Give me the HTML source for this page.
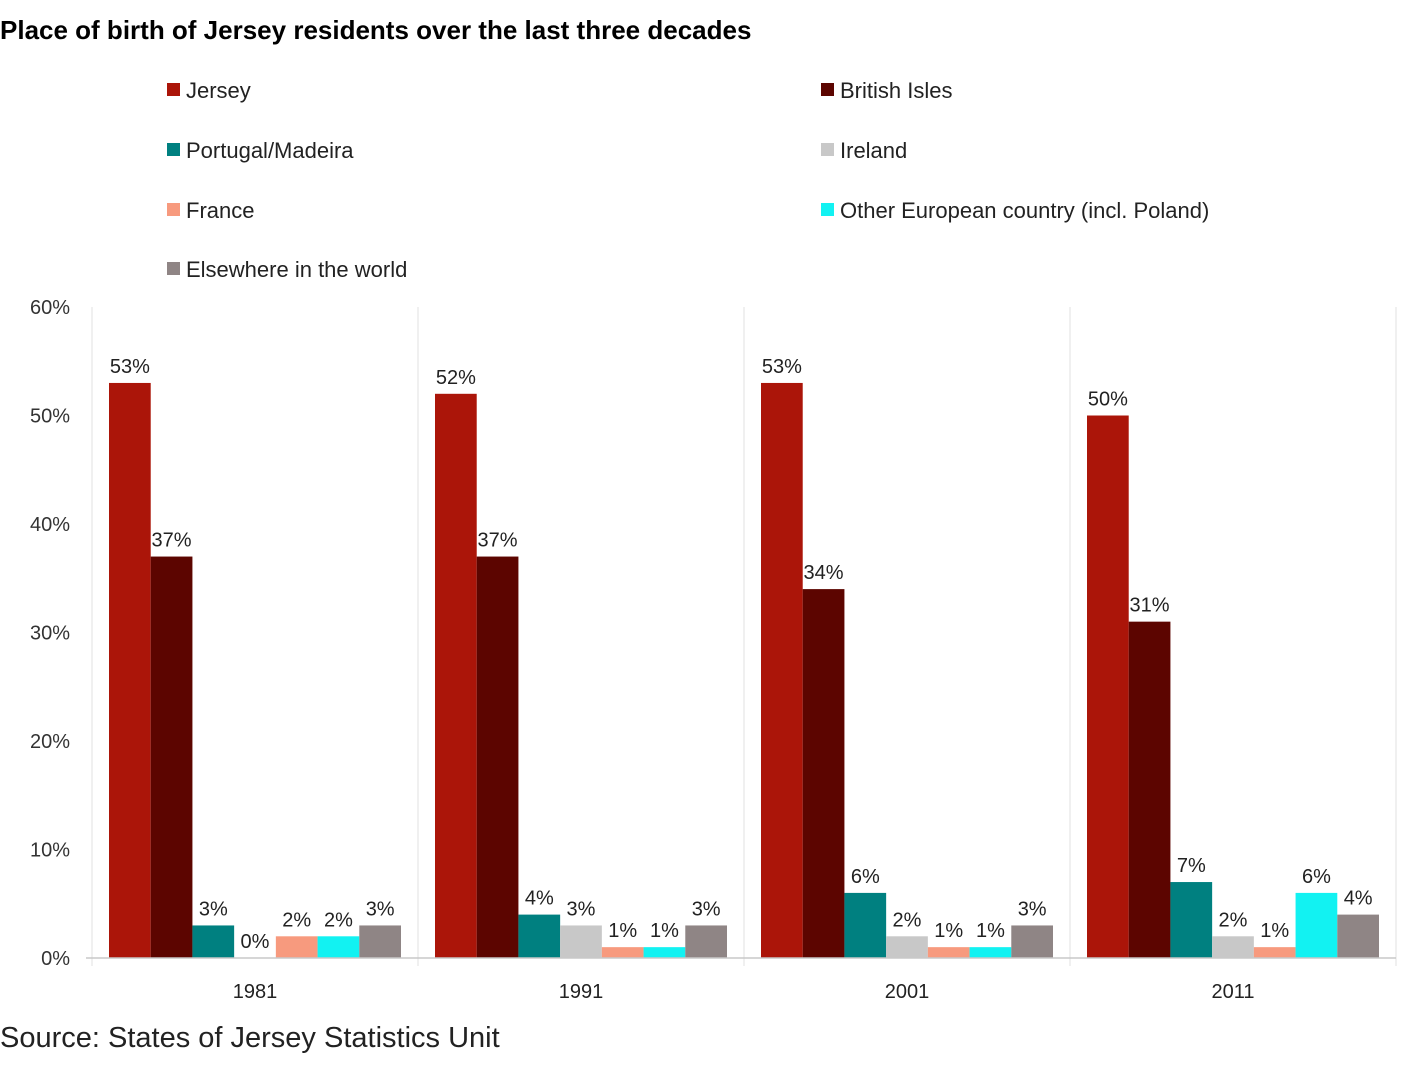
<!DOCTYPE html>
<html><head><meta charset="utf-8"><style>
body{margin:0;background:#fff;font-family:"Liberation Sans",sans-serif;}
svg{display:block}
</style></head><body>
<svg id="chart" width="1420" height="1068" xmlns="http://www.w3.org/2000/svg">
<text x="0" y="39" font-size="26" font-weight="bold" fill="#000">Place of birth of Jersey residents over the last three decades</text>
<g id="legend"></g>
<g id="grid"></g>
<g id="yaxis"></g>
<g id="bars"></g>
<g id="xaxis"></g>
<text x="0" y="1047" font-size="29" fill="#222">Source: States of Jersey Statistics Unit</text>
</svg>
<script>
const categories = ["1981","1991","2001","2011"];
const seriesNames = ["Jersey","British Isles","Portugal/Madeira","Ireland","France","Other European country (incl. Poland)","Elsewhere in the world"];
const jersey = [53,52,53,50];
const britishIsles = [37,37,34,31];
const portugal = [3,4,6,7];
const ireland = [0,3,2,2];
const france = [2,1,1,1];
const otherEurope = [2,1,1,6];
const elsewhere = [3,3,3,4];
const yTicks = [0,10,20,30,40,50,60];
const colors = ["#ab1509","#5c0500","#008080","#c8c8c8","#f79a7e","#12f2f2","#8f8585"];
const series = [jersey,britishIsles,portugal,ireland,france,otherEurope,elsewhere];
const NS="http://www.w3.org/2000/svg";
const x0=92,x1=1396,y0=958,yTop=307,yMax=60;
const groupW=(x1-x0)/categories.length, pad=17, barW=(groupW-2*pad)/series.length;
const y=v=>y0-(v/yMax)*(y0-yTop);
function mk(tag,attrs,parent,text){const e=document.createElementNS(NS,tag);for(const k in attrs)e.setAttribute(k,attrs[k]);if(text!==undefined)e.textContent=text;parent.appendChild(e);return e;}
const legend=document.getElementById('legend');
seriesNames.forEach((n,i)=>{
  const cx=i%2===0?167:821, cy=[90,150,210,269][Math.floor(i/2)];
  const g=mk('g',{},legend);
  
  
  mk('rect',{x:cx,y:cy-7,width:13,height:13,fill:colors[i]},g);
  mk('text',{x:cx+19,y:cy+8,'font-size':22,fill:'#222'},g,n);
});
const grid=document.getElementById('grid');
for(let i=0;i<=categories.length;i++){
  const gx=x0+i*groupW;
  const l=mk('line',{x1:gx,x2:gx,y1:yTop,y2:y0+8,stroke:'#e2e2e2','stroke-width':1},grid);
  
  
}
const ya=document.getElementById('yaxis');
yTicks.forEach(t=>{
  const tx=mk('text',{x:70,y:y(t)+7,'font-size':20,fill:'#333','text-anchor':'end'},ya,t+'%');
  
  
});
const bars=document.getElementById('bars');
categories.forEach((c,ci)=>{
  series.forEach((s,si)=>{
    const v=s[ci], bx=x0+ci*groupW+pad+si*barW;
    const r=mk('rect',{x:bx,y:y(v),width:barW,height:y0-y(v),fill:colors[si]},bars);
    
    
    const lb=mk('text',{x:bx+barW/2,y:y(v)-10,'font-size':20,fill:'#222','text-anchor':'middle'},bars,Math.round(v)+'%');
    
    
  });
});
const xa=document.getElementById('xaxis');
mk('line',{x1:x0-6,x2:x1,y1:y0,y2:y0,stroke:'#c8c8c8','stroke-width':1.5},xa);
categories.forEach((c,ci)=>{
  const t=mk('text',{x:x0+ci*groupW+groupW/2,y:998,'font-size':20,fill:'#222','text-anchor':'middle'},xa,c);
  
  
});
</script>
</body></html>
